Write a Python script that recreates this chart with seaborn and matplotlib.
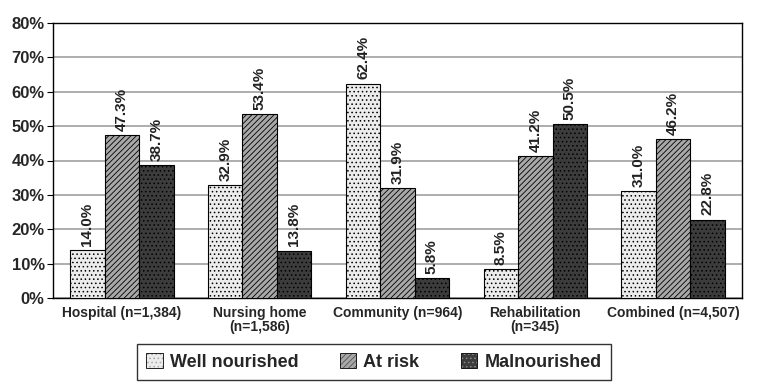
import matplotlib
matplotlib.use("Agg")
import matplotlib.pyplot as plt
import seaborn as sns
import pandas as pd
import numpy as np

categories = ["Hospital (n=1,384)", "Nursing home\n(n=1,586)", "Community (n=964)",
              "Rehabilitation\n(n=345)", "Combined (n=4,507)"]
well_nourished = [14.0, 32.9, 62.4, 8.5, 31.0]
at_risk = [47.3, 53.4, 31.9, 41.2, 46.2]
malnourished = [38.7, 13.8, 5.8, 50.5, 22.8]
series = ["Well nourished", "At risk", "Malnourished"]
yticks = [0, 10, 20, 30, 40, 50, 60, 70, 80]

rows = []
for name, vals in zip(series, [well_nourished, at_risk, malnourished]):
    for c, v in zip(categories, vals):
        rows.append({"cat": c, "series": name, "value": v})
df = pd.DataFrame(rows)

sns.set_style("white")
plt.rcParams["font.family"] = ["Liberation Sans", "DejaVu Sans"]
plt.rcParams["hatch.linewidth"] = 0.6

fig = plt.figure(figsize=(7.58, 3.89), dpi=100)
ax = fig.add_axes([53/758, 1 - 298/389, 689/758, 275/389])

colors = ["#ececec", "#a8a8a8", "#3c3c3c"]
hatches = ["....", "//////", "...."]
hatch_colors = ["#a8a8a8", "#555555", "#8a8a8a"]

sns.barplot(data=df, x="cat", y="value", hue="series", hue_order=series,
            palette=colors, width=0.75, gap=0, edgecolor="black", linewidth=0.8,
            ax=ax, legend=False, zorder=3)

for i, cont in enumerate(ax.containers):
    for bar in cont:
        bar.set_hatch(hatches[i])
        bar._hatch_color = matplotlib.colors.to_rgba(hatch_colors[i])
        bar.set_edgecolor("black")
    labels = [f"{v:.1f}%" for v in cont.datavalues]
    ax.bar_label(cont, labels=labels, rotation=90, padding=3, fontsize=11,
                 fontweight="bold", color="#222222")

ax.set_ylim(0, 80)
ax.set_xlim(-0.5, 4.5)
ax.set_yticks(yticks)
ax.set_yticklabels([f"{t}%" for t in yticks], fontsize=12, fontweight="bold")
ax.yaxis.grid(True, color="#a0a0a0", linewidth=1.2, zorder=0)
ax.set_axisbelow(True)
ax.set_xticks(range(len(categories)))
ax.set_xticklabels(categories, fontsize=10, fontweight="bold", linespacing=1.0)
ax.tick_params(axis="x", length=0, pad=6)
ax.set_xticks(np.arange(-0.5, 5.0, 1.0), minor=True)
ax.tick_params(axis="x", which="minor", length=4, direction="out", color="black")
ax.tick_params(axis="y", length=4, direction="out", color="black", left=True, pad=2)
ax.set_xlabel("")
ax.set_ylabel("")
for s in ax.spines.values():
    s.set_color("black")
    s.set_linewidth(1.0)

from matplotlib.patches import Patch
handles = [Patch(facecolor=colors[i], edgecolor="black", hatch=hatches[i], linewidth=0.6)
           for i in range(3)]
for i, h in enumerate(handles):
    h._hatch_color = matplotlib.colors.to_rgba(hatch_colors[i])
leg = fig.legend(handles, series, loc="center", bbox_to_anchor=(374/758, 1 - 362/389),
                 ncol=3, frameon=True, fancybox=False, edgecolor="black",
                 prop={"size": 13, "weight": "bold"}, handlelength=0.9, handleheight=0.9,
                 columnspacing=2.3, handletextpad=0.4, borderpad=0.5)
leg.get_frame().set_linewidth(1.0)

fig.savefig("out.png", dpi=100)
